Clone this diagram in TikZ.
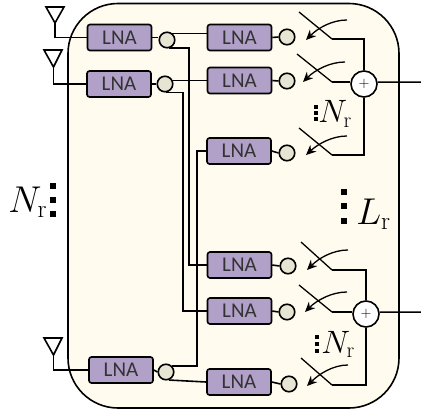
\documentclass[tikz,border=0pt]{standalone}
\usepackage{amsmath,amssymb,amsfonts}
\usepackage{fontspec}
\newfontfamily\lnafont{Carlito}
\usepackage{tikz}
\usetikzlibrary{arrows,arrows.meta,shapes}
\usetikzlibrary{positioning}
\definecolor{boardfill}{HTML}{FFFBEE}
\definecolor{lnafill}{HTML}{B1A0C8}
\definecolor{tapfill}{HTML}{E6E4D2}
\tikzset{
	lna/.style={draw=black, fill=lnafill, rounded corners=2.5pt, line width=1.6pt, minimum width=64pt, minimum height=26pt, inner sep=0pt, font=\lnafont\fontsize{21}{21}\selectfont, text=black!80},
	tap/.style={draw=black, fill=tapfill, circle, line width=1.6pt, minimum size=15.5pt, inner sep=0pt},
	adder/.style={draw=black, fill=white, circle, line width=1.6pt, minimum size=26pt, inner sep=0pt, font=\fontsize{14}{14}\selectfont},
	wire/.style={draw=black, line width=1.6pt},
	antenna/.style={draw=black, line width=1.6pt, line join=miter},
	blade/.style={draw=black, line width=1.3pt},
	steer/.style={draw=black, line width=1.3pt, -{Stealth[length=10pt,width=9pt]}},
	dotmark/.style={fill=black, minimum size=4.5pt, inner sep=0pt},
	bigdot/.style={fill=black, minimum size=6.5pt, inner sep=0pt},
	biglabel/.style={font=\fontsize{24}{24}\selectfont, scale=1.5, transform shape, inner sep=0pt, anchor=base west},
	smalllabel/.style={font=\fontsize{24}{24}\selectfont, scale=1.3, transform shape, inner sep=0pt, anchor=base west},
}
\begin{document}
\begin{tikzpicture}[x=1pt, y=-1pt]
	\useasboundingbox (0,0) rectangle (421,412);
	\draw[line width=1.6pt, fill=boardfill, rounded corners=50pt] (68,3.5) rectangle (399,408);
	% first column
	\node[lna] (a1) at (119.5,37.5) {LNA};
	\node[lna] (a2) at (119,84) {LNA};
	\node[lna] (a3) at (121,370) {LNA};
	\node[tap] (t1) at (167,40) {};
	\node[tap] (t2) at (165,84) {};
	\node[tap] (t3) at (166,372) {};
	% second column
	\node[lna] (b1) at (239.5,37.5) {LNA};
	\node[lna] (b2) at (239.5,80.5) {LNA};
	\node[lna] (b3) at (239,151) {LNA};
	\node[lna] (b4) at (239.5,265) {LNA};
	\node[lna] (b5) at (239.5,311) {LNA};
	\node[lna] (b6) at (239,382) {LNA};
	\node[tap] (c1) at (287,37) {};
	\node[tap] (c2) at (287,81) {};
	\node[tap] (c3) at (287,153) {};
	\node[tap] (c4) at (288,266) {};
	\node[tap] (c5) at (287,312) {};
	\node[tap] (c6) at (289,384) {};
	% antennas
	\draw[antenna] (46,7)--(64,7)--(55,23)--cycle;
	\draw[antenna] (44,50)--(62,50)--(53.5,67)--cycle;
	\draw[antenna] (44,338)--(62,338)--(53.5,355)--cycle;
	\coordinate (ant1) at (55,23);
	\coordinate (ant2) at (53.5,67);
	\coordinate (ant3) at (53.5,355);
	\draw[wire] (ant1)--(ant1|-a1.west) -- (a1.west);
	\draw[wire] (ant2)--(ant2|-a2.west) -- (a2.west);
	\draw[wire] (ant3)--(ant3|-a3.west) -- (a3.west);
	% amplifier to splitter
	\draw[wire] (a1.east)--(t1.west|-a1.east);
	\draw[wire] (a2.east)--(t2.west);
	\draw[wire] (a3.east)--(t3.west);
	\draw[wire] (b1.east)--(c1.west);
	\draw[wire] (b2.east)--(c2.west);
	\draw[wire] (b3.east)--(c3.west);
	\draw[wire] (b4.east)--(c4.west);
	\draw[wire] (b5.east)--(c5.west);
	\draw[wire] (b6.east)--(c6.west);
	% feed network
	\draw[wire] (t1.50)--(t1.50-|b1.west);
	\draw[wire] (t2.25)--(t2.25-|b2.west);
	\draw[wire] (t1.-75) -| (189,265) -- (b4.west);
	\draw[wire] (t2.-80) -| (183,311) -- (b5.west);
	\draw[wire] (t3.45) -| (197,151) -- (b3.west);
	\draw[wire] (t3.-70) -- (b6.west);
	\foreach \ypos/\name in {39/u1, 82/u2, 155/u3, 270/u4, 312/u5, 385/u6}
		\coordinate (\name) at (332,\ypos);
	% switches
	\draw[blade] (299,12)--(u1);
	\draw[blade] (297,54)--(u2);
	\draw[blade] (299,128)--(u3);
	\draw[blade] (301,242)--(u4);
	\draw[blade] (299,285)--(u5);
	\draw[blade] (301,358)--(u6);
	\draw[steer] (347,20) .. controls (332,20) and (318,28) .. (306,40);
	\draw[steer] (345,62) .. controls (330,62) and (315,70) .. (303,82);
	\draw[steer] (347,136) .. controls (332,136) and (318,144) .. (306,155);
	\draw[steer] (348,250) .. controls (333,250) and (319,258) .. (307,270);
	\draw[steer] (347,292) .. controls (332,292) and (317,300) .. (305,312);
	\draw[steer] (348,365) .. controls (333,365) and (319,374) .. (307,386);
	% adders and their inputs
	\node[adder] (s1) at (364,84) {$+$};
	\node[adder] (s2) at (366,314) {$+$};
	\draw[wire] (u1) -| (s1.north);
	\draw[wire] (u2)--(s1.west|-u2);
	\draw[wire] (u3) -| (s1.south);
	\draw[wire] (u4) -| (s2.north);
	\draw[wire] (u5)--(s2.west|-u5);
	\draw[wire] (u6) -| (s2.south);
	\coordinate (o1) at (421,82.2);
	\coordinate (o2) at (421,312.2);
	\draw[wire] (s1.8)--(o1);
	\draw[wire] (s2.8)--(o2);
	% labels
	\node[biglabel] (nr0) at (8,212) {$N_{\mathrm{r}}$};
	\node[biglabel] (lr) at (356,224) {$L_{\mathrm{r}}$};
	\node[smalllabel] (nr1) at (318,123) {$N_{\mathrm{r}}$};
	\node[smalllabel] (nr2) at (321,353) {$N_{\mathrm{r}}$};
	\foreach \ypos in {186,200,214}
		\node[bigdot] at (53,\ypos) {};
	\foreach \ypos in {192,206,221}
		\node[bigdot] at (344,\ypos) {};
	\foreach \ypos in {107,113,119}
		\node[dotmark] at (316,\ypos) {};
	\foreach \ypos in {337,344,351}
		\node[dotmark] at (317,\ypos) {};
\end{tikzpicture}
\end{document}
